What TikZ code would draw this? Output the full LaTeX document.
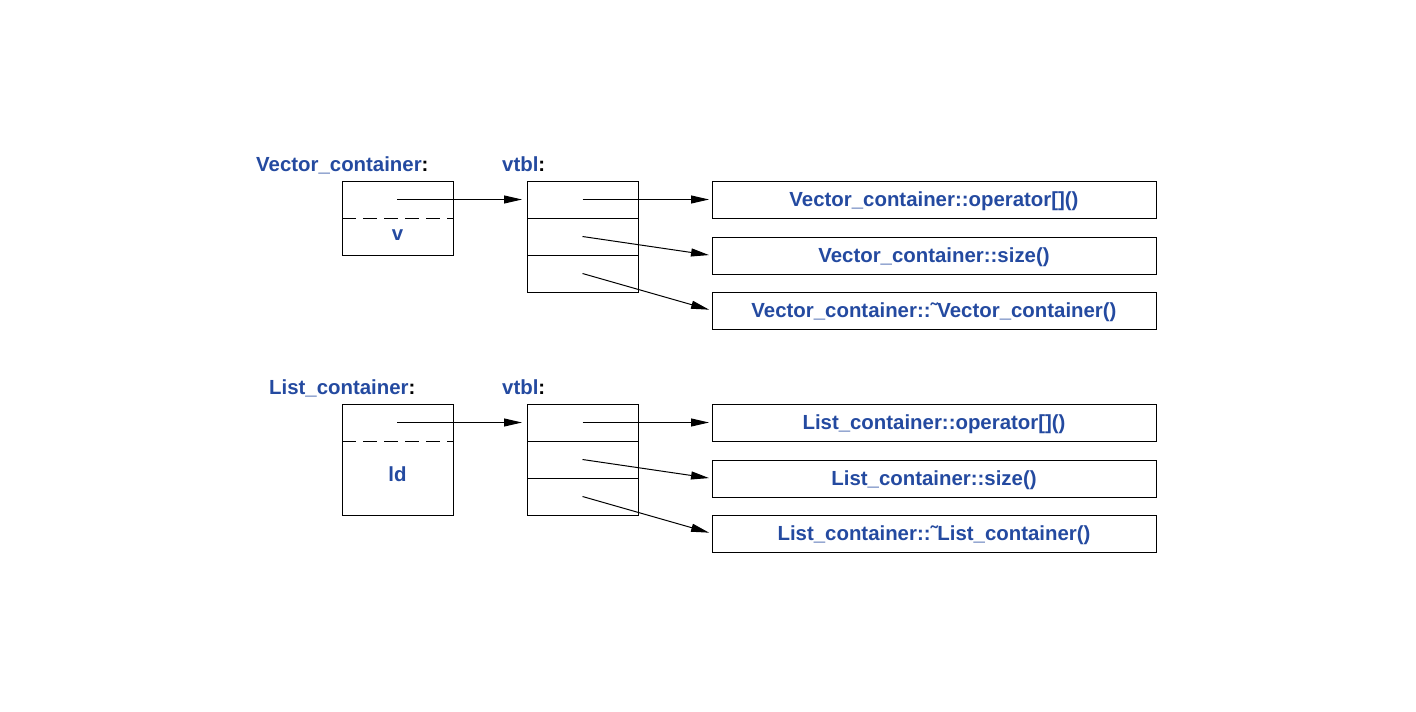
\documentclass[tikz,border=0pt]{standalone}
\usepackage{fontspec}
\setmainfont{Liberation Sans}
\usetikzlibrary{arrows.meta}
\definecolor{lblue}{RGB}{36,74,160}
\tikzset{
  cell/.style={draw, line width=1, minimum width=111, minimum height=37, inner sep=0, outer sep=0},
  objbox/.style={draw, line width=1, minimum width=111, inner sep=0, outer sep=0},
  fbox/.style={draw, line width=1, minimum width=444, minimum height=37, inner sep=0, outer sep=0, font=\fs, text=lblue, text height=15, text depth=2},
  lbl/.style={anchor=base west, inner sep=0, font=\fs},
  ptr/.style={line width=1, -{Triangle[length=18, width=8]}},
  sep/.style={line width=1, dash pattern=on 14 off 7},
}
\newcommand{\fs}{\fontsize{20.4}{24}\selectfont\bfseries}
\newcommand{\tld}{\symbol{"02DC}}
\begin{document}
\begin{tikzpicture}[x=1pt, y=-1pt]
\useasboundingbox (0,0) rectangle (1416,712);
% ---------- Vector_container ----------
\node[lbl] (lv) at (256,171) {\textcolor{lblue}{Vector\_container}:};
\node[lbl] (lt1) at (502,171) {\textcolor{lblue}{vtbl}:};
\node[objbox, minimum height=74] (o1) at (397.5,218) {};
\coordinate (o1d) at (342,218);
\coordinate (o1e) at (453,218);
\draw[sep] (o1d) -- (o1e);
\node[font=\fs, text=lblue] (v) at (397.5,235) {v};
\coordinate (p1) at (397,199.5);
\node[cell] (a1) at (582.5,199.5) {};
\node[cell] (b1) at (582.5,236.5) {};
\node[cell] (c1) at (582.5,273.5) {};
\node[fbox] (fa1) at (934,199.5) {Vector\_container::operator[]()};
\node[fbox] (fb1) at (934,255.5) {Vector\_container::size()};
\node[fbox] (fc1) at (934,310.5) {Vector\_container::\tld Vector\_container()};
\draw[ptr, shorten >=5] (p1) -- (a1.west);
\draw[ptr, shorten >=3] (a1.center) -- (fa1.west);
\draw[ptr, shorten >=3] (b1.center) -- (fb1.west);
\draw[ptr, shorten >=3] (c1.center) -- (fc1.west);
% ---------- List_container ----------
\node[lbl] (ll) at (269,394) {\textcolor{lblue}{List\_container}:};
\node[lbl] (lt2) at (502,394) {\textcolor{lblue}{vtbl}:};
\node[objbox, minimum height=111] (o2) at (397.5,459.5) {};
\coordinate (o2d) at (342,441);
\coordinate (o2e) at (453,441);
\draw[sep] (o2d) -- (o2e);
\node[font=\fs, text=lblue] (ld) at (397.5,474) {ld};
\coordinate (p2) at (397,422.5);
\node[cell] (a2) at (582.5,422.5) {};
\node[cell] (b2) at (582.5,459.5) {};
\node[cell] (c2) at (582.5,496.5) {};
\node[fbox] (fa2) at (934,422.5) {List\_container::operator[]()};
\node[fbox] (fb2) at (934,478.5) {List\_container::size()};
\node[fbox] (fc2) at (934,533.5) {List\_container::\tld List\_container()};
\draw[ptr, shorten >=5] (p2) -- (a2.west);
\draw[ptr, shorten >=3] (a2.center) -- (fa2.west);
\draw[ptr, shorten >=3] (b2.center) -- (fb2.west);
\draw[ptr, shorten >=3] (c2.center) -- (fc2.west);
\end{tikzpicture}
\end{document}
